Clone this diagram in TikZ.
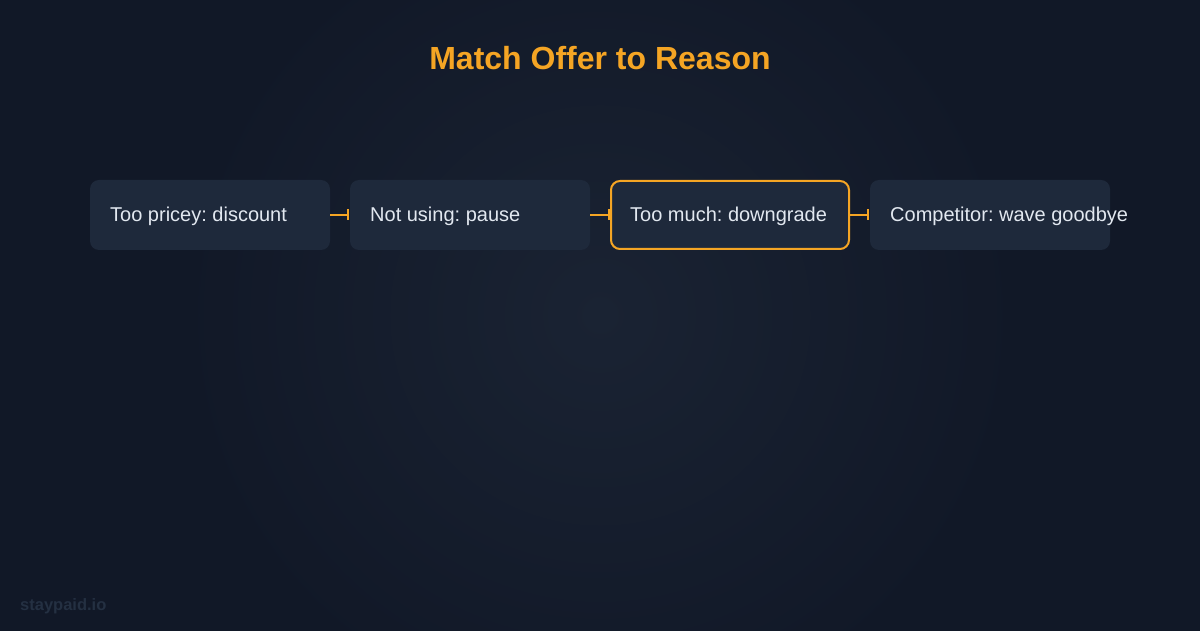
\documentclass[tikz,border=0pt]{standalone}
\usepackage{fontspec}
\setmainfont{Liberation Sans}
\frenchspacing
\usetikzlibrary{positioning,arrows.meta}
\definecolor{bgdark}{HTML}{111827}
\definecolor{bglight}{HTML}{1A2333}
\definecolor{boxfill}{HTML}{1E293B}
\definecolor{offer}{HTML}{F5A524}
\definecolor{txt}{HTML}{E2E8F0}
\definecolor{mark}{HTML}{243042}
\tikzset{
  reason/.style={fill=boxfill, rounded corners=9pt, minimum width=240pt, minimum height=70pt, inner sep=0pt, outer sep=0pt},
  chosen/.style={reason, draw=offer, line width=2pt, minimum width=238pt, minimum height=68pt},
  label/.style={anchor=west, text=txt, font=\fontsize{20}{22}\selectfont, inner sep=0pt},
  link/.style={offer, line width=2pt, -{Bar[width=11pt,line width=2pt]}}
}
\begin{document}
\begin{tikzpicture}[x=1pt,y=1pt]
\useasboundingbox (0,0) rectangle (1200,630);
\fill[bgdark] (-10,-10) rectangle (1210,640);
\begin{scope}
\clip (-10,-10) rectangle (1210,640);
\shade[inner color=bglight, outer color=bgdark] (600,315) circle (420);
\end{scope}
\node[text=offer, font=\bfseries\fontsize{32}{36}\selectfont] (title) at (600,572) {Match Offer to Reason};
\node[reason] (price) at (210,415) {};
\node[reason] (usage) at (470,415) {};
\node[chosen] (much) at (730,415) {};
\node[reason] (rival) at (990,415) {};
\node[label] at ([xshift=20pt,yshift=-1pt]price.west) {Too pricey: discount};
\node[label] at ([xshift=20pt,yshift=-1pt]usage.west) {Not using: pause};
\node[label] at ([xshift=19pt,yshift=-1pt]much.west) {Too much: downgrade};
\node[label] at ([xshift=20pt,yshift=-1pt]rival.west) {Competitor: wave goodbye};
\draw[link] (price) -- ([xshift=-1pt]usage.west);
\draw[link] (usage) -- ([xshift=-1pt]much.west);
\draw[link] (much) -- ([xshift=-1pt]rival.west);
\node[anchor=west, text=mark, font=\bfseries\fontsize{16.5}{18}\selectfont, inner sep=0pt] (site) at (20,24) {staypaid.io};
\end{tikzpicture}
\end{document}
